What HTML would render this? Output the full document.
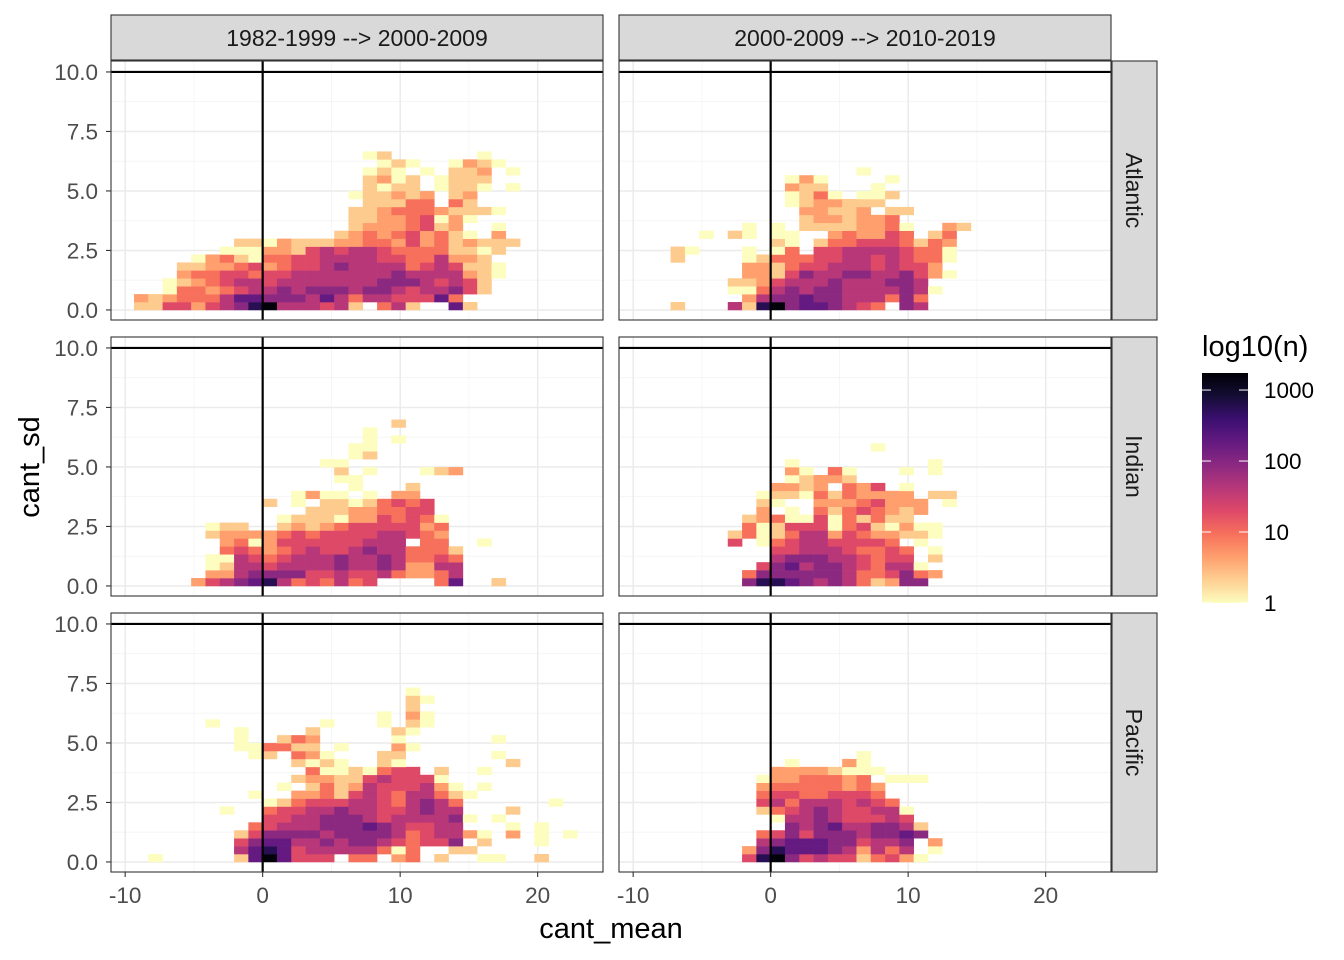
<!DOCTYPE html>
<html><head><meta charset="utf-8"><style>
html,body{margin:0;padding:0;background:#fff;}
svg{display:block;font-family:"Liberation Sans",sans-serif;}
</style></head><body>
<svg id="chart" width="1344" height="960" viewBox="0 0 1344 960" xmlns="http://www.w3.org/2000/svg">
<defs>
<linearGradient id="magmaGrad" x1="0" y1="1" x2="0" y2="0">
<stop offset="0" stop-color="#fcfdbf"/><stop offset="0.1" stop-color="#fecf92"/><stop offset="0.2" stop-color="#fe9f6d"/><stop offset="0.3" stop-color="#f7705c"/><stop offset="0.4" stop-color="#de4968"/><stop offset="0.5" stop-color="#b73779"/><stop offset="0.6" stop-color="#8c2981"/><stop offset="0.7" stop-color="#641a80"/><stop offset="0.8" stop-color="#3b0f70"/><stop offset="0.9" stop-color="#140e36"/><stop offset="1" stop-color="#000004"/>
</linearGradient>
</defs>
</svg>
<script>
// Column strings start at bin -9; rows listed from sd=0 upward. Digit = count level.
const colTitles = ["1982-1999 --> 2000-2009", "2000-2009 --> 2010-2019"];
const rowTitles = ["Atlantic", "Indian", "Pacific"];
const xTicks = [-10, 0, 10, 20];
const xTickLabels = ["-10", "0", "10", "20"];
const yTicks = [0, 2.5, 5, 7.5, 10];
const yTickLabels = ["0.0", "2.5", "5.0", "7.5", "10.0"];
const legendValues = [1, 10, 100, 1000];
const legendLabels = ["1", "10", "100", "1000"];
const levelLog10 = [0, 0.35, 0.65, 0.97, 1.3, 1.62, 1.95, 2.27, 2.75, 3.2];
const binWidth = 1.04;
const binHeight = 0.333;
const firstBin = -9;
const atlantic1 = ["1144245689555451.351..71","21233357766657535544473","..03323455656665665455641","..01234554555555566654541","...23344344555555565555210","...11223423445655553454110","....023103344555544335221","......00022145455433331101",".......11021112233242312111","..............1232342310.2","...............12223412..0","...............112234020","...............11233321110","................11133.31","...............011212.12","................1011.0110.0","................1201.0111","................010.0.112.0",".................010..0210","................01......0"];
const atlantic2 = ["..1...51896776543.65",".......2566766555363","......003565665555650","......11245556555665",".......221465566556420",".......22134455545442","..1....013334455454330","..10...0.03.4455554330",".........10.1334443132","....0.10.00..232243.13",".......0.0.11112230..21","...........1221223","...........22112.11","..........0122111","..........0130.001","..........211...0","..........020....0","...............0"];
const indian1 = ["....2456785343534....37..1",".....225666644544532235",".....015545555655652255",".....005434555655653343","......34323454456553331","......2302444444555.33..0",".....12222343444455432",".....011..121234444423","..........011102243430","............111223344",".........1.0.11013434","...........0200.0.22","...............0...1","..............00","..............1.0...012",".............00","...............01","...............00","................0.0","................0","..................1"];
const indian2 = [".......6887656531266",".......36666665334632","........467566543550",".........5666554344.1",".........4455543343.0","......4.0345544443.0","......130135524322110",".......30144403410200",".......123004031311","........2.0.31343212","........10..22234222.0","........01103132222.11",".........2212.324.0","..........01221","..........20.30...0.0","..........0.........0","","................0"];
const pacific1 = [".0.....1797444.33.23.1..00..1",".......5787455555303..11",".......4677556566543446.1...0",".......146666566665345520.2.0.0","........345556667654455...0.0",".........445566654555560.0","......0..34455655445655...1",".........01344455435653......0","........0..2231454355310","..........0.13125444520.0","...........12211454440","............30010344.1..0","...........1010..10.......1","........01.320...11......0",".......003311.0...20",".......0..132.....0......0",".......0....1.....10",".....0.......0...0.10",".................0.20","...................1","...................10","...................0"];
const pacific2 = [".......4896454413420",".......268777652535.0","........56777664556.2","........346466656676","..........6567556651",".........0556544454","........13456544550","........4535554543","........344334443","........233333232","........02233323.000",".........22221000","..........0...20","...............0"];
const panelData = [atlantic1, atlantic2, indian1, indian2, pacific1, pacific2];

const NS = "http://www.w3.org/2000/svg";
const svg = document.getElementById("chart");
function mk(tag, attrs, parent) {
  const e = document.createElementNS(NS, tag);
  for (const k in attrs) e.setAttribute(k, attrs[k]);
  (parent || svg).appendChild(e);
  return e;
}
const magma = ["#000004","#140e36","#3b0f70","#641a80","#8c2981","#b73779","#de4968","#f7705c","#fe9f6d","#fecf92","#fcfdbf"];
function hex2rgb(h){return [parseInt(h.slice(1,3),16),parseInt(h.slice(3,5),16),parseInt(h.slice(5,7),16)];}
const LMAX = 3.24;
function colorFor(logv) {
  let t = 1 - logv / LMAX; t = Math.max(0, Math.min(1, t));
  const p = t * 10, i = Math.min(9, Math.floor(p)), f = p - i;
  const a = hex2rgb(magma[i]), b = hex2rgb(magma[i + 1]);
  return "rgb(" + a.map((v, k) => Math.round(v + (b[k] - v) * f)).join(",") + ")";
}
const PW = 492, PH = 259;
const panelX = [111, 619], panelY = [61, 337, 613];
const XMIN = -11.03, PXU = 13.75, YMAX = 10.46, PYU = 23.8;
const TICKFS = 22.5, STRIPFS = 23, TITLEFS = 29;

for (let r = 0; r < 3; r++) {
  for (let c = 0; c < 2; c++) {
    const x0 = panelX[c], y0 = panelY[r];
    const sx = v => x0 + (v - XMIN) * PXU;
    const sy = v => y0 + (YMAX - v) * PYU;
    const g = mk("g", {});
    
    
    mk("rect", {x: x0, y: y0, width: PW, height: PH, fill: "#fff"}, g);
    [-5, 5, 15].forEach(v => mk("line", {x1: sx(v), x2: sx(v), y1: y0, y2: y0 + PH, stroke: "#f4f4f4", "stroke-width": 0.8}, g));
    [1.25, 3.75, 6.25, 8.75].forEach(v => mk("line", {x1: x0, x2: x0 + PW, y1: sy(v), y2: sy(v), stroke: "#f4f4f4", "stroke-width": 0.8}, g));
    xTicks.forEach(v => mk("line", {x1: sx(v), x2: sx(v), y1: y0, y2: y0 + PH, stroke: "#ebebeb", "stroke-width": 1.5}, g));
    yTicks.forEach(v => mk("line", {x1: x0, x2: x0 + PW, y1: sy(v), y2: sy(v), stroke: "#ebebeb", "stroke-width": 1.5}, g));
    const rows = panelData[r * 2 + c];
    rows.forEach((s, ri) => {
      for (let ci = 0; ci < s.length; ci++) {
        const ch = s[ci];
        if (ch === ".") continue;
        const lv = levelLog10[+ch];
        const xv = (firstBin + ci) * binWidth, yv = ri * binHeight;
        const rc = mk("rect", {x: sx(xv), y: sy(yv + binHeight), width: binWidth * PXU + 0.3, height: binHeight * PYU + 0.3, fill: colorFor(lv)}, g);
        
        
      }
    });
    const hl = mk("line", {x1: x0, x2: x0 + PW, y1: sy(10), y2: sy(10), stroke: "#000", "stroke-width": 2.2}, g);
    
    
    const vl = mk("line", {x1: sx(0), x2: sx(0), y1: y0, y2: y0 + PH, stroke: "#000", "stroke-width": 2.2}, g);
    
    
    mk("rect", {x: x0, y: y0, width: PW, height: PH, fill: "none", stroke: "#333", "stroke-width": 1.1}, g);
    if (c === 0) {
      yTicks.forEach((v, i) => {
        mk("line", {x1: x0 - 5, x2: x0, y1: sy(v), y2: sy(v), stroke: "#333", "stroke-width": 1.1});
        const t = mk("text", {x: x0 - 13, y: sy(v) + 8, "text-anchor": "end", "font-size": TICKFS, fill: "#4d4d4d"});
        t.textContent = yTickLabels[i];
        
        
      });
    }
    if (r === 2) {
      xTicks.forEach((v, i) => {
        mk("line", {x1: sx(v), x2: sx(v), y1: y0 + PH, y2: y0 + PH + 5, stroke: "#333", "stroke-width": 1.1});
        const t = mk("text", {x: sx(v), y: y0 + PH + 31, "text-anchor": "middle", "font-size": TICKFS, fill: "#4d4d4d"});
        t.textContent = xTickLabels[i];
        
        
      });
    }
    if (r === 0) {
      const sr = mk("rect", {x: x0, y: 15, width: PW, height: 45, fill: "#d9d9d9", stroke: "#333", "stroke-width": 1.1});
      
      
      const st = mk("text", {x: x0 + PW / 2, y: 46, "text-anchor": "middle", "font-size": STRIPFS, fill: "#1a1a1a"});
      st.textContent = colTitles[c];
      
      
    }
    if (c === 1) {
      const sr = mk("rect", {x: 1112, y: y0, width: 45, height: PH, fill: "#d9d9d9", stroke: "#333", "stroke-width": 1.1});
      
      
      const st = mk("text", {x: 0, y: 0, "text-anchor": "middle", "font-size": STRIPFS, fill: "#1a1a1a", transform: "translate(1126," + (y0 + PH / 2) + ") rotate(90)"});
      st.textContent = rowTitles[r];
      
      
    }
  }
}
const xt = mk("text", {x: 611, y: 938, "text-anchor": "middle", "font-size": TITLEFS, fill: "#000"});
xt.textContent = "cant_mean";


const yt = mk("text", {x: 0, y: 0, "text-anchor": "middle", "font-size": TITLEFS, fill: "#000", transform: "translate(39,467) rotate(-90)"});
yt.textContent = "cant_sd";


const lg = mk("g", {});


const lt = mk("text", {x: 1202, y: 356, "font-size": TITLEFS, fill: "#000"}, lg);
lt.textContent = "log10(n)";


const cbTop = 373, cbBot = 603, cbX = 1202, cbW = 46;
const cb = mk("rect", {x: cbX, y: cbTop, width: cbW, height: cbBot - cbTop, fill: "url(#magmaGrad)"}, lg);


legendValues.forEach((v, i) => {
  const yy = cbBot - Math.log10(v) / LMAX * (cbBot - cbTop);
  mk("line", {x1: cbX, x2: cbX + 9, y1: yy, y2: yy, stroke: "#fff", "stroke-width": 1}, lg);
  mk("line", {x1: cbX + cbW - 9, x2: cbX + cbW, y1: yy, y2: yy, stroke: "#fff", "stroke-width": 1}, lg);
  const t = mk("text", {x: 1264, y: yy + 8, "font-size": TICKFS, fill: "#000"}, lg);
  t.textContent = legendLabels[i];
  
  
});
</script>
</body></html>
